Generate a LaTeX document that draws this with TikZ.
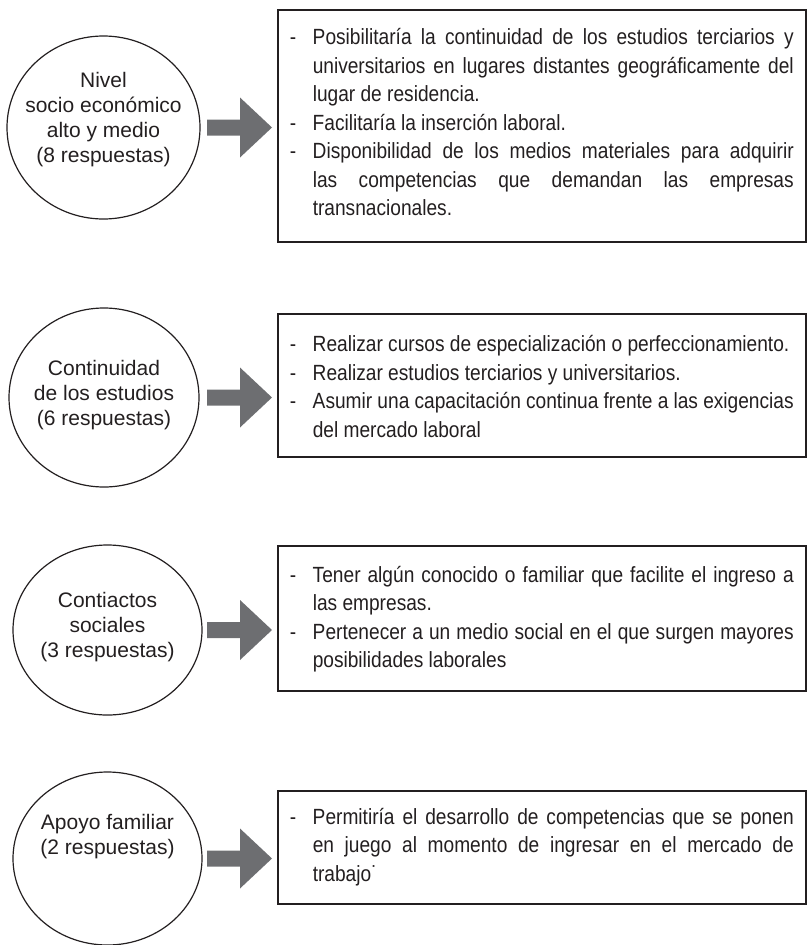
\documentclass[tikz,border=0pt]{standalone}
\usepackage{fontspec}
\setmainfont{Liberation Sans}
\newfontfamily\estrecha[FakeStretch=0.87]{Liberation Sans}
\usetikzlibrary{shapes.geometric}
\definecolor{tinta}{HTML}{231F20}
\definecolor{grisflecha}{HTML}{6D6E71}
\newcommand{\guion}{\par\hangindent=23pt\hangafter=1\noindent\makebox[23pt][l]{-}}
\newcommand{\relleno}[1]{\par\vspace{#1}\hrule height 0pt}
\hyphenpenalty=10000
\exhyphenpenalty=10000
\tolerance=10000

\begin{document}
\begin{tikzpicture}[x=1pt,y=-1pt,
          ovalo/.style={ellipse,draw=tinta,line width=1.2pt,inner sep=0pt},
          textoovalo/.style={align=center,text=tinta,inner sep=0pt,font=\fontsize{21}{25}\selectfont},
          caja/.style={draw=tinta,line width=1.5pt,anchor=north west,inner xsep=12pt,inner ysep=0pt,
            text width=504pt,align=justify,text=tinta,font=\estrecha\fontsize{22}{28.5}\selectfont},
          flecha/.pic={\fill[grisflecha] (0,-8) -- (33,-8) -- (33,-30) -- (65,0) -- (33,30) -- (33,8) -- (0,8) -- cycle;}]
          \useasboundingbox (0,0) rectangle (808,945);

          \node[ovalo,minimum width=193pt,minimum height=183pt] (c1) at (103.5,127.5) {};
          \node[textoovalo] (t1) at ([yshift=7.8pt]c1.center) {Nivel\\socio económico\\alto y medio\\(8 respuestas)};
          \node[caja,minimum height=232pt] (b1) at (277,9) {%
            \guion Posibilitaría la continuidad de los estudios terciarios y\linebreak universitarios en lugares distantes geográficamente del\linebreak lugar de residencia.
            \guion Facilitaría la inserción laboral.
            \guion Disponibilidad de los medios materiales para adquirir\linebreak las competencias que demandan las empresas\linebreak transnacionales.\relleno{19pt}};
          \pic at (207,0 |- c1) {flecha};

          \node[ovalo,minimum width=190pt,minimum height=179pt] (c2) at (104,397.5) {};
          \node[textoovalo] (t2) at ([yshift=2pt]c2.center) {Continuidad\\de los estudios\\(6 respuestas)};
          \node[caja,minimum height=143pt] (b2) at (277,313) {%
            \guion Realizar cursos de especialización o perfeccionamiento.
            \guion Realizar estudios terciarios y universitarios.
            \guion Asumir una capacitación continua frente a las exigencias\linebreak del mercado laboral\relleno{9.5pt}};
          \pic at (207,0 |- c2) {flecha};

          \node[ovalo,minimum width=189pt,minimum height=170pt] (c3) at (107.5,630) {};
          \node[textoovalo] (t3) at ([yshift=3pt]c3.center) {Contiactos\\sociales\\(3 respuestas)};
          \node[caja,minimum height=145pt] (b3) at (277,545) {%
            \guion Tener algún conocido o familiar que facilite el ingreso a\linebreak las empresas.
            \guion Pertenecer a un medio social en el que surgen mayores\linebreak posibilidades laborales\relleno{10.9pt}};
          \pic at (207,0 |- c3) {flecha};

          \node[ovalo,minimum width=189pt,minimum height=173pt] (c4) at (107.5,858.5) {};
          \node[textoovalo] (t4) at ([yshift=22pt]c4.center) {Apoyo familiar\\(2 respuestas)};
          \node[caja,minimum height=113pt] (b4) at (277,790) {%
            \guion Permitiría el desarrollo de competencias que se ponen\linebreak en juego al momento de ingresar en el mercado de\linebreak trabajo˙\relleno{13.4pt}};
          \pic at (207,0 |- c4) {flecha};
        \end{tikzpicture}
\end{document}
